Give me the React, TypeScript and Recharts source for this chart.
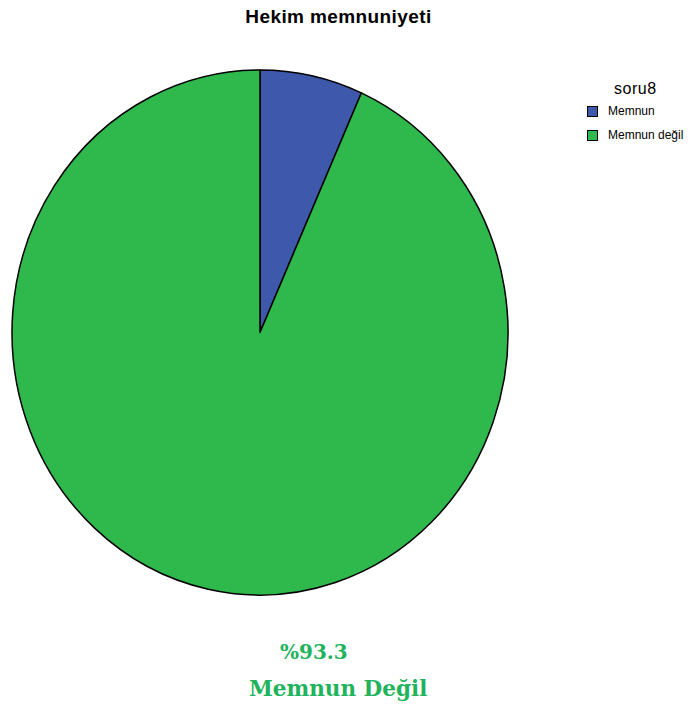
import { PieChart, Pie, Cell, Legend } from 'recharts';

const categories = ['Memnun', 'Memnun değil'];
const percents = [6.7, 93.3];
const colors = ['#3e58ac', '#2fb84b'];

const legendTitle = 'soru8';
const chartTitle = 'Hekim memnuniyeti';
const noteValue = '%93.3';
const noteLabel = 'Memnun Değil';

const data = categories.map((name, i) => ({ name, value: percents[i] }));

// the original pie is a little taller than wide
const STRETCH = 262.5 / 248;
const RAD = Math.PI / 180;

const EllipseSector = (props: any) => {
  const { cx, cy, outerRadius, startAngle, endAngle, fill } = props;
  const rx = outerRadius;
  const ry = outerRadius * STRETCH;
  const pt = (a: number) => [cx + rx * Math.cos(-a * RAD), cy + ry * Math.sin(-a * RAD)];
  const [x0, y0] = pt(startAngle);
  const [x1, y1] = pt(endAngle);
  const large = Math.abs(startAngle - endAngle) > 180 ? 1 : 0;
  const sweep = startAngle > endAngle ? 1 : 0;
  const d = `M ${cx} ${cy} L ${x0} ${y0} A ${rx} ${ry} 0 ${large} ${sweep} ${x1} ${y1} Z`;
  return <path d={d} fill={fill} stroke="#000" strokeWidth={1.5} strokeLinejoin="round" />;
};

const LegendBox = () => (
  <div style={{ fontFamily: 'Liberation Sans, Arial, sans-serif', color: '#000' }}>
    <div style={{ fontSize: 16, letterSpacing: 0.5, marginLeft: 27, marginBottom: 1, lineHeight: '18px' }}>
      {legendTitle}
    </div>
    {categories.map((c, i) => (
      <div key={c} style={{ display: 'flex', alignItems: 'center', height: 24, fontSize: 12 }}>
        <span
          style={{
            width: 9,
            height: 9,
            background: colors[i],
            border: '1.5px solid #000',
            marginRight: 10,
            display: 'inline-block',
          }}
        />
        {c}
      </div>
    ))}
  </div>
);

export default function App() {
  return (
    <div style={{ position: 'relative', width: 695, height: 711, margin: -8, background: '#fff', overflow: 'hidden' }}>
      <div
        style={{
          position: 'absolute',
          top: 6,
          left: 0,
          width: 677,
          textAlign: 'center',
          fontFamily: 'Liberation Sans, Arial, sans-serif',
          fontWeight: 'bold',
          fontSize: 19,
          letterSpacing: 0.4,
        }}
      >
        {chartTitle}
      </div>
      <PieChart
        width={695}
        height={711}
        margin={{ top: 0, right: 0, bottom: 0, left: 0 }}
        style={{ position: 'absolute', top: 0, left: 0 }}
      >
        <Pie
          data={data}
          dataKey="value"
          nameKey="name"
          cx={260}
          cy={332.5}
          outerRadius={248}
          startAngle={90}
          endAngle={-270}
          shape={EllipseSector}
          isAnimationActive={false}
          label={false}
          labelLine={false}
        >
          {data.map((d, i) => (
            <Cell key={d.name} fill={colors[i]} />
          ))}
        </Pie>
        <Legend
          content={<LegendBox />}
          wrapperStyle={{ position: 'absolute', left: 587, top: 80, width: 110 }}
        />
      </PieChart>
      <div
        style={{
          position: 'absolute',
          top: 640,
          left: 0,
          width: 695,
          fontFamily: 'DejaVu Serif, Liberation Serif, serif',
          fontWeight: 'bold',
          color: '#21b35c',
        }}
      >
        <div style={{ position: 'absolute', left: 280, top: 0, fontSize: 20 }}>{noteValue}</div>
        <div style={{ position: 'absolute', left: 249, top: 36, fontSize: 21.5 }}>{noteLabel}</div>
      </div>
    </div>
  );
}
